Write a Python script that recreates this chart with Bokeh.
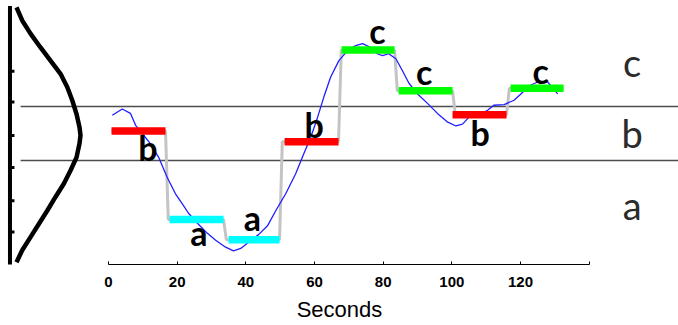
from bokeh.plotting import figure
from bokeh.models import Range1d, FixedTicker
from bokeh.core.properties import value
from bokeh.embed import file_html
from bokeh.resources import INLINE

# ---------------- data ----------------
# z-normalised time series (x in seconds)
ts_x = [1.1, 4.0, 6.4, 7.9, 9.8, 12.2, 14.6, 17.1, 19.5, 21.5, 23.3, 25.9, 28.8,
        31.2, 34.1, 36.4, 38.5, 40.8, 43.7, 46.3, 48.7, 51.6, 54.5, 56.9, 58.9,
        60.9, 62.7, 64.7, 67.1, 69.6, 72.0, 74.0, 76.4, 78.3, 79.8, 81.6, 83.7,
        85.6, 87.5, 90.0, 92.9, 95.8, 98.8, 101.2, 103.1, 105.0, 107.5, 110.4,
        112.2, 115.2, 118.1, 120.1, 122.5, 125.0, 127.9, 130.8]
ts_y = [0.29, 0.39, 0.32, 0.13, 0.00, -0.16, -0.38, -0.70, -0.96, -1.12, -1.27,
        -1.43, -1.59, -1.70, -1.81, -1.87, -1.83, -1.73, -1.61, -1.47, -1.23,
        -0.96, -0.64, -0.32, -0.06, 0.26, 0.58, 0.90, 1.16, 1.32, 1.40, 1.43,
        1.37, 1.27, 1.24, 1.27, 1.19, 1.00, 0.80, 0.63, 0.48, 0.32, 0.18, 0.12,
        0.15, 0.26, 0.29, 0.37, 0.45, 0.46, 0.53, 0.63, 0.76, 0.82, 0.82, 0.63]

# PAA segments and their SAX symbols
symbols = ["b", "a", "a", "b", "c", "c", "b", "c"]
seg_start = [0.87, 17.77, 34.96, 51.27, 67.87, 84.48, 100.20, 117.10]
seg_end = [16.60, 33.50, 49.81, 66.99, 83.31, 100.20, 115.93, 132.54]
paa_value = [0.04, -1.37, -1.69, -0.13, 1.33, 0.68, 0.30, 0.72]
letter_x = [11.5, 26.3, 41.9, 59.9, 78.3, 91.9, 108.2, 125.9]
letter_y = [-0.43, -1.78, -1.55, -0.06, 1.43, 0.78, -0.19, 0.79]

# breakpoints and alphabet
breakpoints = [-0.43, 0.43]
alphabet = ["a", "b", "c"]
alphabet_y = [-1.36, -0.22, 0.92]

# Gaussian drawn on the left (x offset, y level)
gauss_x = [-26.80, -25.14, -22.72, -19.81, -16.90, -13.98, -12.03, -10.57, -9.32,
           -8.45, -8.16, -8.45, -9.32, -11.07, -13.02, -15.44, -17.86, -20.30,
           -22.72, -25.14, -26.80]
gauss_y = [2.01, 1.80, 1.59, 1.37, 1.16, 0.95, 0.74, 0.53, 0.31, 0.10, -0.03,
           -0.16, -0.38, -0.59, -0.80, -1.01, -1.23, -1.44, -1.65, -1.86, -2.05]
gauss_axis_ticks = [0.99, 0.50, -0.03, -0.54, -1.07, -1.57]
gauss_axis_x = -28.7
gauss_axis_span = [2.03, -2.10]

# x axis ticks
x_ticks = [0, 20, 40, 60, 80, 100, 120, 140]
x_tick_labels = ["0", "20", "40", "60", "80", "100", "120", ""]

colors = {"a": "#00ffff", "b": "#ff0000", "c": "#00ff00"}

# ---------------- figure ----------------
p = figure(width=678, height=325, output_backend="svg", toolbar_location=None,
           x_range=Range1d(-31.46, 166.0), y_range=Range1d(-2.086, 2.118),
           y_axis_location=None, min_border_left=0, min_border_right=0,
           min_border_top=0, min_border_bottom=61)
p.outline_line_color = None
p.grid.visible = False
p.background_fill_color = "white"

# breakpoint lines
p.segment(x0=[-25.6] * len(breakpoints), x1=[170] * len(breakpoints),
          y0=breakpoints, y1=breakpoints, line_color="#4d4d4d", line_width=1.6)

# gaussian and its axis
p.segment(x0=[gauss_axis_x], x1=[gauss_axis_x], y0=[gauss_axis_span[0]],
          y1=[gauss_axis_span[1]], line_color="black", line_width=4)
p.segment(x0=[gauss_axis_x] * len(gauss_axis_ticks),
          x1=[gauss_axis_x + 1.3] * len(gauss_axis_ticks),
          y0=gauss_axis_ticks, y1=gauss_axis_ticks, line_color="black", line_width=3)
p.line(gauss_x, gauss_y, line_color="black", line_width=4.5)

# PAA step line (gray)
gx, gy = [], []
for i in range(len(paa_value)):
    gx += [seg_start[i], seg_end[i]]
    gy += [paa_value[i], paa_value[i]]
    if i < len(paa_value) - 1:
        gx.append(seg_end[i] + 0.8)
        gy.append(paa_value[i + 1])
p.line(gx, gy, line_color="#c4c4c4", line_width=3)

# time series
p.line(ts_x, ts_y, line_color="#1f1fff", line_width=1.3)

# SAX bars
p.segment(x0=seg_start, x1=seg_end, y0=paa_value, y1=paa_value,
          line_color=[colors[s] for s in symbols], line_width=7.5, line_cap="butt")

# symbols
p.text(x=letter_x, y=letter_y, text=symbols, text_font=value("Lato"),
       text_font_style="bold", text_font_size="34px", text_align="center",
       text_baseline="alphabetic", text_color="black", y_offset=-13)

# alphabet labels on the right
p.text(x=[152.5] * 3, y=alphabet_y, text=alphabet, text_font=value("Lato"),
       text_font_size="38px", text_align="center", text_baseline="alphabetic",
       text_color="#2b2b2b", y_offset=-14)

# x axis
ax = p.xaxis[0]
ax.bounds = (0, 140)
ax.ticker = FixedTicker(ticks=x_ticks)
ax.major_label_overrides = {t: l for t, l in zip(x_ticks, x_tick_labels)}
ax.minor_tick_line_color = None
ax.major_tick_in = 3
ax.major_tick_out = 0
ax.axis_line_color = "black"
ax.major_tick_line_color = "black"
ax.major_label_text_font = "Liberation Sans"
ax.major_label_text_font_style = "bold"
ax.major_label_text_font_size = "15px"
ax.major_label_text_color = "black"
ax.major_label_standoff = 12
ax.axis_label = "Seconds"
ax.axis_label_text_font = "Liberation Sans"
ax.axis_label_text_font_style = "normal"
ax.axis_label_text_font_size = "22px"
ax.axis_label_text_color = "black"
ax.axis_label_standoff = 7

open("out.html", "w").write(file_html(p, INLINE))
